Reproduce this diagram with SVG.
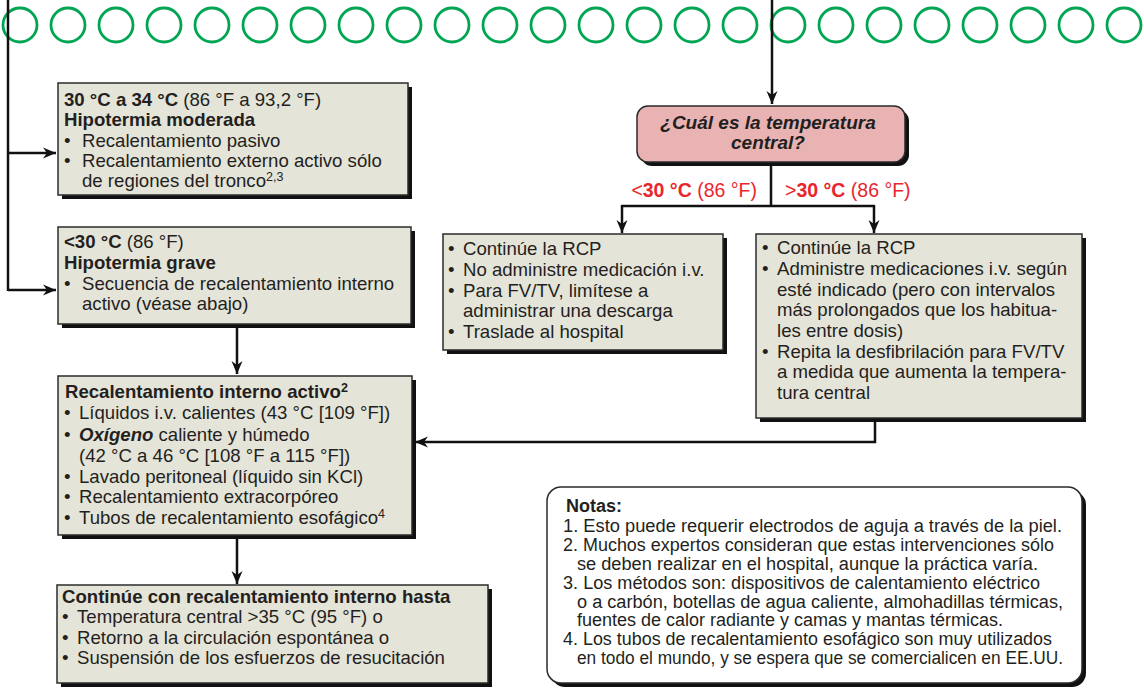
<svg xmlns="http://www.w3.org/2000/svg" width="1144" height="688" viewBox="0 0 1144 688">
<defs>
<marker id="ah" markerUnits="userSpaceOnUse" markerWidth="14" markerHeight="12" refX="13" refY="6" orient="auto"><path d="M0,0.5 L13,6 L0,11.5 L4,6 Z" fill="#111"/></marker>
</defs>
<style>
.box{fill:#E5E4D9;stroke:#2b2b2b;stroke-width:1.5}
.sh{fill:#111}
.t{font-family:"Liberation Sans",Arial,sans-serif;font-size:18.6px;fill:#231f20}
.b{font-weight:bold}
.n{font-family:"Liberation Sans",Arial,sans-serif;font-size:18px;fill:#231f20}
.red{font-family:"Liberation Sans",Arial,sans-serif;font-size:19.5px;fill:#E8262E}
.q{font-family:"Liberation Sans",Arial,sans-serif;font-size:19px;font-weight:bold;font-style:italic;fill:#231f20}
.c{fill:none;stroke:#111;stroke-width:2.5}
.circ{fill:none;stroke:#00A651;stroke-width:2.8}
.sup{font-size:12.5px}
</style>
<rect width="1144" height="688" fill="#fff"/>
<g id="circles">
<circle class="circ" cx="20" cy="25" r="17"/><circle class="circ" cx="68" cy="25" r="17"/><circle class="circ" cx="116" cy="25" r="17"/><circle class="circ" cx="164" cy="25" r="17"/><circle class="circ" cx="212" cy="25" r="17"/><circle class="circ" cx="260" cy="25" r="17"/><circle class="circ" cx="308" cy="25" r="17"/><circle class="circ" cx="356" cy="25" r="17"/><circle class="circ" cx="404" cy="25" r="17"/><circle class="circ" cx="452" cy="25" r="17"/><circle class="circ" cx="500" cy="25" r="17"/><circle class="circ" cx="548" cy="25" r="17"/><circle class="circ" cx="596" cy="25" r="17"/><circle class="circ" cx="644" cy="25" r="17"/><circle class="circ" cx="692" cy="25" r="17"/><circle class="circ" cx="740" cy="25" r="17"/><circle class="circ" cx="788" cy="25" r="17"/><circle class="circ" cx="836" cy="25" r="17"/><circle class="circ" cx="884" cy="25" r="17"/><circle class="circ" cx="932" cy="25" r="17"/><circle class="circ" cx="980" cy="25" r="17"/><circle class="circ" cx="1028" cy="25" r="17"/><circle class="circ" cx="1076" cy="25" r="17"/><circle class="circ" cx="1124" cy="25" r="17"/>
</g>
<g id="connectors">
<path class="c" d="M8,0 V291"/>
<path class="c" d="M8,153 H56" marker-end="url(#ah)"/>
<path class="c" d="M8,290 H56" marker-end="url(#ah)"/>
<path class="c" d="M772,0 V104" marker-end="url(#ah)"/>
<path class="c" d="M771,162 V206"/>
<path class="c" d="M621.5,206 H874.5"/>
<path class="c" d="M622,205 V233" marker-end="url(#ah)"/>
<path class="c" d="M874,205 V233" marker-end="url(#ah)"/>
<path class="c" d="M875,418 V442 H415" marker-end="url(#ah)"/>
<path class="c" d="M237,326 V374" marker-end="url(#ah)"/>
<path class="c" d="M237,538 V584" marker-end="url(#ah)"/>
</g>
<g id="labels">
<text class="red" x="757" y="197" text-anchor="end">&lt;<tspan class="b">30 °C</tspan> (86 °F)</text>
<text class="red" x="785" y="197">&gt;<tspan class="b">30 °C</tspan> (86 °F)</text>
</g>
<g id="question">
<rect x="641" y="110" width="268" height="56" rx="11" class="sh"/>
<rect x="637" y="106" width="268" height="56" rx="11" fill="#E9B3B3" stroke="#2b2b2b" stroke-width="1.5"/>
<text class="q" x="768" y="129" text-anchor="middle">¿Cuál es la temperatura</text>
<text class="q" x="768" y="149" text-anchor="middle">central?</text>
</g>
<g id="moderada">
<rect x="62" y="87" width="350" height="112" class="sh"/>
<rect x="58" y="83" width="350" height="112" class="box"/>
<text class="t" x="64" y="106"><tspan class="b">30 °C a 34 °C</tspan> (86 °F a 93,2 °F)</text>
<text class="t b" x="64" y="126">Hipotermia moderada</text>
<text class="t" x="64" y="147">•</text><text class="t" x="82" y="147">Recalentamiento pasivo</text>
<text class="t" x="64" y="167">•</text><text class="t" x="82" y="167">Recalentamiento externo activo sólo</text>
<text class="t" x="82" y="187">de regiones del tronco<tspan class="sup" dy="-6">2,3</tspan></text>
</g>
<g id="grave">
<rect x="62" y="231" width="353" height="97" class="sh"/>
<rect x="58" y="227" width="353" height="97" class="box"/>
<text class="t" x="64" y="248"><tspan class="b">&lt;30 °C</tspan> (86 °F)</text>
<text class="t b" x="64" y="269">Hipotermia grave</text>
<text class="t" x="64" y="290">•</text><text class="t" x="82" y="290">Secuencia de recalentamiento interno</text>
<text class="t" x="82" y="310">activo (véase abajo)</text>
</g>
<g id="frio">
<rect x="447" y="238" width="280" height="116" class="sh"/>
<rect x="443" y="234" width="280" height="116" class="box"/>
<text class="t" x="448" y="255">•</text><text class="t" x="463" y="255">Continúe la RCP</text>
<text class="t" x="448" y="276">•</text><text class="t" x="463" y="276">No administre medicación i.v.</text>
<text class="t" x="448" y="297">•</text><text class="t" x="463" y="297">Para FV/TV, limítese a</text>
<text class="t" x="463" y="317">administrar una descarga</text>
<text class="t" x="448" y="338">•</text><text class="t" x="463" y="338">Traslade al hospital</text>
</g>
<g id="templado">
<rect x="760" y="238" width="326" height="184" class="sh"/>
<rect x="756" y="234" width="326" height="184" class="box"/>
<text class="t" x="762" y="254">•</text><text class="t" x="777" y="254">Continúe la RCP</text>
<text class="t" x="762" y="275">•</text><text class="t" x="777" y="275">Administre medicaciones i.v. según</text>
<text class="t" x="777" y="296">esté indicado (pero con intervalos</text>
<text class="t" x="777" y="316">más prolongados que los habitua-</text>
<text class="t" x="777" y="337">les entre dosis)</text>
<text class="t" x="762" y="358">•</text><text class="t" x="777" y="358">Repita la desfibrilación para FV/TV</text>
<text class="t" x="777" y="378">a medida que aumenta la tempera-</text>
<text class="t" x="777" y="399">tura central</text>
</g>
<g id="interno">
<rect x="62" y="380" width="354" height="159" class="sh"/>
<rect x="58" y="376" width="354" height="159" class="box"/>
<text class="t b" x="65" y="398">Recalentamiento interno activo<tspan class="sup" dy="-6">2</tspan></text>
<text class="t" x="64" y="419">•</text><text class="t" x="79" y="419">Líquidos i.v. calientes (43 °C [109 °F])</text>
<text class="t" x="64" y="441">•</text><text class="t" x="79" y="441"><tspan class="b" font-style="italic">Oxígeno</tspan> caliente y húmedo</text>
<text class="t" x="79" y="462">(42 °C a 46 °C [108 °F a 115 °F])</text>
<text class="t" x="64" y="483">•</text><text class="t" x="79" y="483">Lavado peritoneal (líquido sin KCl)</text>
<text class="t" x="64" y="503">•</text><text class="t" x="79" y="503">Recalentamiento extracorpóreo</text>
<text class="t" x="64" y="524">•</text><text class="t" x="79" y="524">Tubos de recalentamiento esofágico<tspan class="sup" dy="-6">4</tspan></text>
</g>
<g id="continuar">
<rect x="61" y="589" width="431" height="98" class="sh"/>
<rect x="57" y="585" width="431" height="98" class="box"/>
<text class="t b" x="62" y="603">Continúe con recalentamiento interno hasta</text>
<text class="t" x="62" y="623">•</text><text class="t" x="77" y="623">Temperatura central &gt;35 °C (95 °F) o</text>
<text class="t" x="62" y="644">•</text><text class="t" x="77" y="644">Retorno a la circulación espontánea o</text>
<text class="t" x="62" y="664">•</text><text class="t" x="77" y="664">Suspensión de los esfuerzos de resucitación</text>
</g>
<g id="notas">
<rect x="551" y="491" width="535" height="196" rx="14" class="sh"/>
<rect x="547" y="487" width="535" height="196" rx="14" fill="#fff" stroke="#2b2b2b" stroke-width="1.5"/>
<text class="n b" x="566" y="512">Notas:</text>
<text class="n" x="563" y="532" textLength="499" lengthAdjust="spacingAndGlyphs">1. Esto puede requerir electrodos de aguja a través de la piel.</text>
<text class="n" x="563" y="551" textLength="491" lengthAdjust="spacingAndGlyphs">2. Muchos expertos consideran que estas intervenciones sólo</text>
<text class="n" x="577" y="570" textLength="461" lengthAdjust="spacingAndGlyphs">se deben realizar en el hospital, aunque la práctica varía.</text>
<text class="n" x="563" y="589" textLength="477" lengthAdjust="spacingAndGlyphs">3. Los métodos son: dispositivos de calentamiento eléctrico</text>
<text class="n" x="577" y="608" textLength="486" lengthAdjust="spacingAndGlyphs">o a carbón, botellas de agua caliente, almohadillas térmicas,</text>
<text class="n" x="577" y="626" textLength="426" lengthAdjust="spacingAndGlyphs">fuentes de calor radiante y camas y mantas térmicas.</text>
<text class="n" x="563" y="645" textLength="489" lengthAdjust="spacingAndGlyphs">4. Los tubos de recalentamiento esofágico son muy utilizados</text>
<text class="n" x="577" y="664" textLength="486" lengthAdjust="spacingAndGlyphs">en todo el mundo, y se espera que se comercialicen en EE.UU.</text>
</g>
</svg>
